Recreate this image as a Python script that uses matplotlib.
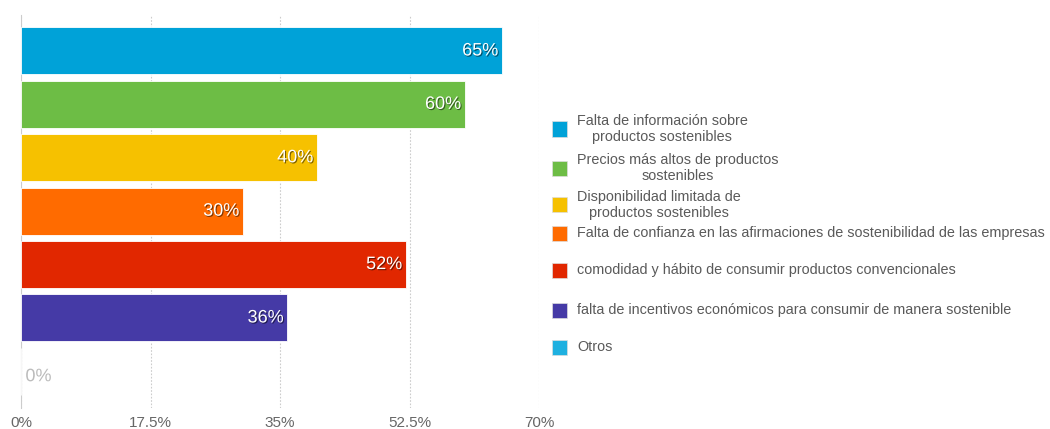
import matplotlib.pyplot as plt
import matplotlib.patheffects as pe
from matplotlib.patches import Rectangle

# Motivos (de arriba a abajo) y porcentajes
categorias = [
    'Falta de información sobre\nproductos sostenibles',
    'Precios más altos de productos\nsostenibles',
    'Disponibilidad limitada de\nproductos sostenibles',
    'Falta de confianza en las afirmaciones de sostenibilidad de las empresas',
    'comodidad y hábito de consumir productos convencionales',
    'falta de incentivos económicos para consumir de manera sostenible',
    'Otros',
]
valores = [65, 60, 40, 30, 52, 36, 0]
colores = ['#00a2d8', '#6dbd45', '#f6c100', '#ff6b00', '#e12700', '#453aa6', '#1eb0e0']
ticks = [0, 17.5, 35, 52.5, 70]
tick_labels = ['0%', '17.5%', '35%', '52.5%', '70%']

plt.rcParams['font.family'] = ['Liberation Sans', 'DejaVu Sans']

fig = plt.figure(figsize=(10.5, 4.29), dpi=100)
ax = fig.add_axes([21 / 1050, 1 - 408 / 429, 518 / 1050, 393 / 429])

y = list(range(len(valores)))
ax.barh(y, valores, height=0.88, color=colores, edgecolor='#ffffff', linewidth=0.6, zorder=3)
ax.set_ylim(6.686, -0.674)
ax.set_xlim(0, 70)

# etiquetas de valor
for yi, v in zip(y, valores):
    if v > 0:
        ax.text(v - 0.5, yi, f'{v}%', ha='right', va='center', fontsize=13, color='white',
                zorder=4, path_effects=[pe.withSimplePatchShadow(offset=(0.8, -0.8), shadow_rgbFace='black', alpha=0.5)])
    else:
        ax.text(v + 0.6, yi + 0.1, f'{v}%', ha='left', va='center', fontsize=13, color='#bbbbbb',
                zorder=4, path_effects=[pe.withStroke(linewidth=1.5, foreground='white')])

ax.set_xticks(ticks)
ax.set_xticklabels(tick_labels, fontsize=11, color='#666666')
ax.set_yticks([])
ax.tick_params(axis='x', length=0, pad=6)
ax.grid(axis='x', color='#cccccc', linestyle=(0, (1.5, 1.5)), linewidth=0.8, zorder=0)
for s in ['top', 'right', 'bottom']:
    ax.spines[s].set_visible(False)
ax.spines['left'].set_color('#cccccc')

# leyenda a la derecha
leg_y = [129, 168, 205, 233, 270, 310, 347]
for cat, col, ly in zip(categorias, colores, leg_y):
    fy = 1 - ly / 429
    fig.patches.append(Rectangle((552 / 1050, fy - 7.5 / 429), 15 / 1050, 15 / 429,
                                 transform=fig.transFigure, facecolor=col, edgecolor='#dddddd',
                                 linewidth=0.5))
    fig.text(577 / 1050, fy, cat, ha='left', va='center', fontsize=10.4, color='#5a5a5a',
             multialignment='center', linespacing=1.25)

fig.savefig('out.png', dpi=100)
